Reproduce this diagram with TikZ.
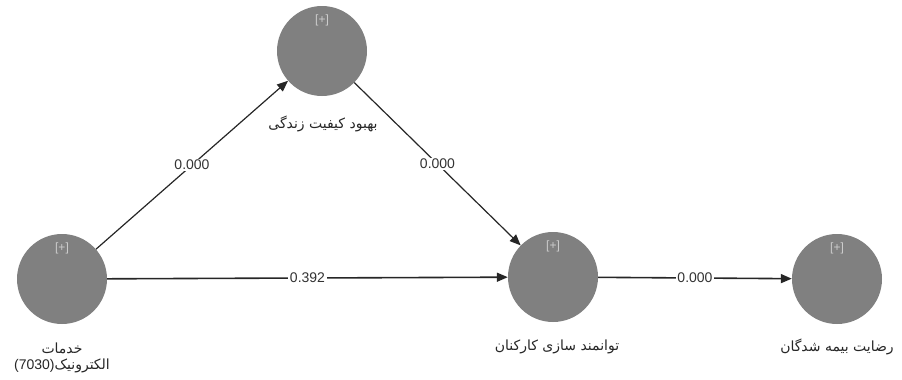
\documentclass[tikz,border=0pt]{standalone}
\usepackage{fontspec}
\setmainfont{Liberation Sans}
\newfontfamily\arabicfont[Script=Arabic]{DejaVu Sans}
\TeXXeTstate=1
\usetikzlibrary{arrows.meta}
\definecolor{lv}{RGB}{128,128,128}
\definecolor{plus}{RGB}{205,205,205}
\tikzset{
  lvnode/.style={circle, fill=lv, minimum size=90pt, inner sep=0pt},
  plusmark/.style={text=plus, font=\fontsize{12}{14}\selectfont},
  lvlabel/.style={font=\arabicfont\fontsize{14}{16}\selectfont, text=black!85, align=center},
  coef/.style={fill=white, inner sep=1.5pt, font=\fontsize{14}{16}\selectfont, text=black!80},
  path/.style={draw=black!85, line width=1.2pt, -{Triangle[length=11pt,width=9pt]}},
}
\begin{document}
\begin{tikzpicture}[x=1pt,y=-1pt]
\useasboundingbox (0,0) rectangle (902,380);
\node[lvnode] (A) at (62,279) {};
\node[lvnode] (B) at (322,51) {};
\node[lvnode] (C) at (553,277) {};
\node[lvnode] (D) at (837,279) {};
\node[plusmark] (pA) at (62,248) {[+]};
\node[plusmark] (pB) at (322,20) {[+]};
\node[plusmark] (pC) at (553,246) {[+]};
\node[plusmark] (pD) at (837,248) {[+]};
\node[lvlabel] (lA1) at (62,348) {\beginR خدمات\endR};
\node[lvlabel, inner sep=0pt] (lA2) at (62,366) {{\rmfamily\fontsize{14}{16}\selectfont (7030)}\beginR الکترونیک\endR};
\node[lvlabel] (lB) at (323,124) {\beginR بهبود کیفیت زندگی\endR};
\node[lvlabel] (lC) at (557,347) {\beginR توانمند سازی کارکنان\endR};
\node[lvlabel] (lD) at (837,347) {\beginR رضایت بیمه شدگان\endR};
\draw[path] (A) -- node[coef] (cAB) {0.000} (B);
\draw[path] (B) -- node[coef] (cBC) {0.000} (C);
\draw[path, line width=1.6pt] (A) -- node[coef] (cAC) {0.392} (C);
\draw[path, line width=1.6pt] (C) -- node[coef] (cCD) {0.000} (D);
\end{tikzpicture}
\end{document}
